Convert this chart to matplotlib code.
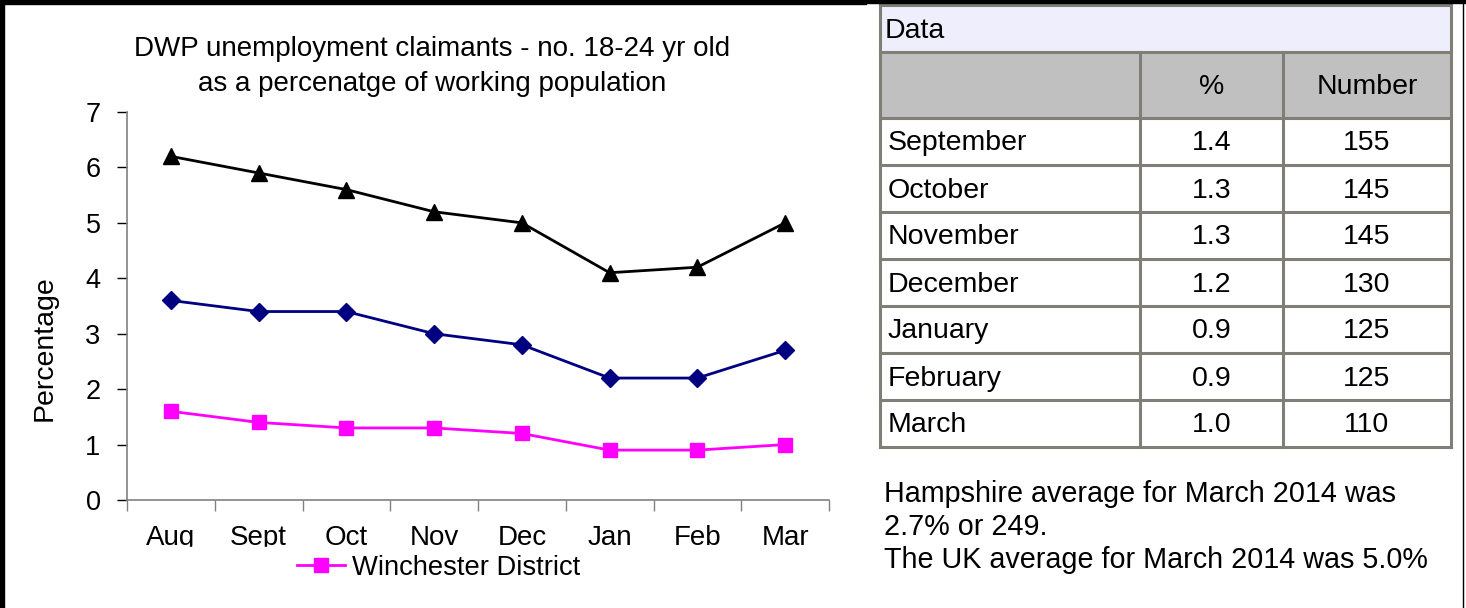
import matplotlib
matplotlib.use('Agg')
import matplotlib.pyplot as plt
from matplotlib.patches import Rectangle

plt.rcParams['font.family'] = ['Liberation Sans', 'DejaVu Sans']

months = ['Aug', 'Sept', 'Oct', 'Nov', 'Dec', 'Jan', 'Feb', 'Mar']
uk = [6.2, 5.9, 5.6, 5.2, 5.0, 4.1, 4.2, 5.0]
hampshire = [3.6, 3.4, 3.4, 3.0, 2.8, 2.2, 2.2, 2.7]
winchester = [1.6, 1.4, 1.3, 1.3, 1.2, 0.9, 0.9, 1.0]

table_months = ['September', 'October', 'November', 'December',
                'January', 'February', 'March']
table_pct = [1.4, 1.3, 1.3, 1.2, 0.9, 0.9, 1.0]
table_num = [155, 145, 145, 130, 125, 125, 110]

title_lines = ['DWP unemployment claimants - no. 18-24 yr old',
               'as a percenatge of working population']
notes = ['Hampshire average for March 2014 was',
         '2.7% or 249.',
         'The UK average for March 2014 was 5.0%']

W, H = 1466, 608
fig = plt.figure(figsize=(W / 100, H / 100), dpi=100)
fig.patch.set_facecolor('white')

# chart axes, placed in pixels
left, right, top, bottom = 127, 829, 112, 500
ax = fig.add_axes([left / W, 1 - bottom / H, (right - left) / W, (bottom - top) / H])
x = list(range(len(months)))
ax.plot(x, uk, color='black', lw=2, marker='^', ms=11, zorder=3)
ax.plot(x, hampshire, color='#000080', lw=2, marker='D', ms=9.5, zorder=3)
l_win, = ax.plot(x, winchester, color='#FF00FF', lw=2, marker='s', ms=10,
                 label='Winchester District', zorder=3)

ax.set_xlim(-0.5, len(months) - 0.5)
ax.set_ylim(0, 7)
ax.set_yticks(range(0, 8))
ax.tick_params(axis='y', direction='out', length=7, width=1, colors='black',
               labelsize=19.5, pad=12)
ax.set_xticks([i - 0.5 for i in range(len(months) + 1)])
ax.set_xticklabels([])
ax.tick_params(axis='x', which='major', direction='out', length=8, width=1,
               colors='#808080')
ax.set_xticks(x, minor=True)
ax.set_xticklabels(months, minor=True, fontsize=20)
ax.tick_params(axis='x', which='minor', length=0, pad=18, labelcolor='black')
for s in ['top', 'right']:
    ax.spines[s].set_visible(False)
for s in ['left', 'bottom']:
    ax.spines[s].set_color('#808080')
    ax.spines[s].set_linewidth(1.2)

# overlay in pixel coordinates
ov = fig.add_axes([0, 0, 1, 1], zorder=1)
ov.set_xlim(0, W)
ov.set_ylim(H, 0)
ov.axis('off')
ov.patch.set_visible(False)

# white band clipping the bottom of the month labels
ov.add_patch(Rectangle((100, 547), 740, 50, color='white', zorder=1))

for i, line in enumerate(title_lines):
    ov.text(432, 49 + i * 35, line, ha='center', va='center', fontsize=20)
ov.text(45, 348, 'Percentage', rotation=90, ha='center', va='center', fontsize=20.5)

ov.legend([l_win], ['Winchester District'], loc='center left',
          bbox_to_anchor=(297 / W, 1 - 568 / H), frameon=False, fontsize=19.7,
          handlelength=1.75, handletextpad=0.25, borderpad=0, borderaxespad=0)

# frame lines
ov.add_patch(Rectangle((0, 0), 866, 4, color='black', zorder=5))
ov.add_patch(Rectangle((866, 0), W - 866, 3, color='black', zorder=5))
ov.add_patch(Rectangle((0, 0), 3.5, H, color='black', zorder=5))
ov.plot([1463, 1463], [0, H], color='black', lw=1, zorder=5)

# data table
tx0, tx1, c1, c2 = 880, 1451, 1140, 1283
ty0, ty_head, ty_rows, row_h = 5, 52, 118, 47
ty1 = ty_rows + row_h * len(table_months)
grid = '#7F7F77'
ov.add_patch(Rectangle((tx0, ty0), tx1 - tx0, ty_head - ty0, color='#EEEEFC', zorder=2))
ov.add_patch(Rectangle((tx0, ty_head), tx1 - tx0, ty_rows - ty_head, color='#C0C0C0', zorder=2))
hlines = [ty0, ty_head, ty_rows] + [ty_rows + row_h * (i + 1) for i in range(len(table_months))]
for yy in hlines:
    ov.plot([tx0, tx1], [yy, yy], color=grid, lw=2.2, zorder=3, solid_capstyle='projecting')
for xx in [tx0, tx1]:
    ov.plot([xx, xx], [ty0, ty1], color=grid, lw=2.2, zorder=3, solid_capstyle='projecting')
for xx in [c1, c2]:
    ov.plot([xx, xx], [ty_head, ty1], color=grid, lw=2.2, zorder=3)

fs = 20.5
ov.text(885, 31, 'Data', ha='left', va='center', fontsize=fs, zorder=4)
ov.text((c1 + c2) / 2, 87, '%', ha='center', va='center', fontsize=fs, zorder=4)
ov.text((c2 + tx1) / 2, 87, 'Number', ha='center', va='center', fontsize=fs, zorder=4)
for i, (m, p, n) in enumerate(zip(table_months, table_pct, table_num)):
    yc = ty_rows + row_h * i + row_h / 2 + 2
    ov.text(888, yc, m, ha='left', va='center', fontsize=fs, zorder=4)
    ov.text((c1 + c2) / 2, yc, '%.1f' % p, ha='center', va='center', fontsize=fs, zorder=4)
    ov.text((c2 + tx1) / 2, yc, str(n), ha='center', va='center', fontsize=fs, zorder=4)

for i, line in enumerate(notes):
    ov.text(884, 502 + i * 33, line, ha='left', va='baseline', fontsize=20.7)

fig.savefig('out.png', dpi=100)
